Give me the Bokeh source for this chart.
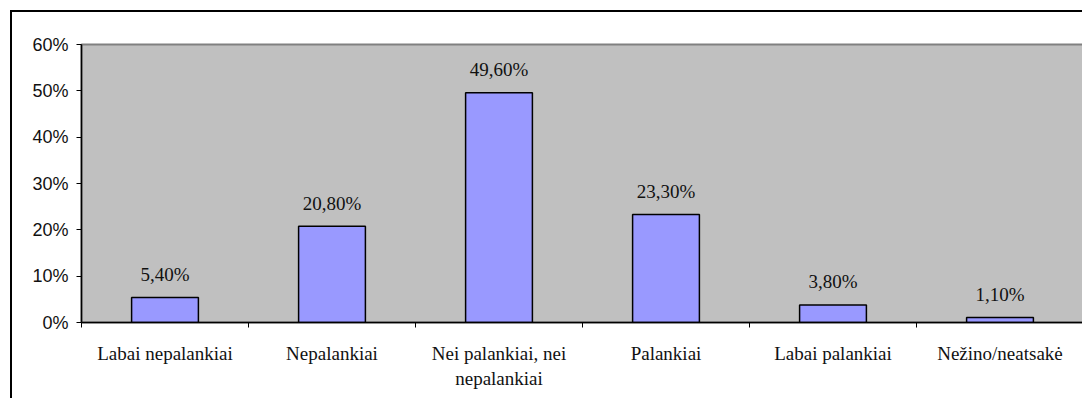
from bokeh.plotting import figure
from bokeh.models import ColumnDataSource, FixedTicker, Range1d, LabelSet
from bokeh.embed import file_html
from bokeh.resources import INLINE

categories = ["Labai nepalankiai", "Nepalankiai", "Nei palankiai, nei\nnepalankiai",
              "Palankiai", "Labai palankiai", "Nežino/neatsakė"]
values = [5.4, 20.8, 49.6, 23.3, 3.8, 1.1]
y_ticks = [0, 10, 20, 30, 40, 50, 60]
y_tick_labels = ["0%", "10%", "20%", "30%", "40%", "50%", "60%"]

n = len(categories)
xs = [i + 0.5 for i in range(n)]
labels = [f"{v:.2f}%".replace(".", ",") for v in values]
src = ColumnDataSource(dict(x=xs, top=values, label=labels))

p = figure(width=1072, height=388, output_backend="svg", toolbar_location=None,
           x_range=Range1d(0, n), y_range=Range1d(0, 60),
           min_border_left=69, min_border_top=32, min_border_bottom=78, min_border_right=1,
           styles={"border-left": "2px solid black", "border-top": "2px solid black",
                   "margin-left": "10px", "margin-top": "10px"})
p.background_fill_color = "#C0C0C0"
p.outline_line_color = "#808080"
p.outline_line_width = 2
p.xgrid.visible = False
p.ygrid.visible = False

p.vbar(x="x", top="top", width=0.4, bottom=0, source=src,
       fill_color="#9999FF", line_color="black", line_width=1.5)

p.add_layout(LabelSet(x="x", y="top", text="label", source=src,
                      text_align="center", text_baseline="middle", y_offset=23,
                      text_font="Liberation Sans", text_font_size="19px", text_color="#111111"))

# y axis
p.yaxis.ticker = FixedTicker(ticks=y_ticks)
p.yaxis.major_label_overrides = {t: l for t, l in zip(y_ticks, y_tick_labels)}
p.yaxis.major_label_text_font = "Liberation Sans"
p.yaxis.major_label_text_font_size = "18px"
p.yaxis.major_label_text_color = "#111111"
p.yaxis.axis_line_color = "black"
p.yaxis.axis_line_width = 1.5
p.yaxis.major_tick_in = 0
p.yaxis.major_tick_out = 5
p.yaxis.major_tick_line_color = "black"
p.yaxis.minor_tick_line_color = None
p.yaxis.major_label_standoff = 8

# x axis: labels at centers, ticks at boundaries
p.xaxis.ticker = FixedTicker(ticks=xs, minor_ticks=list(range(n + 1)))
p.xaxis.major_label_overrides = {x: c for x, c in zip(xs, categories)}
p.xaxis.major_label_text_font = "Liberation Serif"
p.xaxis.major_label_text_font_size = "19px"
p.xaxis.major_label_text_color = "#111111"
p.xaxis.axis_line_color = "black"
p.xaxis.axis_line_width = 1.5
p.xaxis.major_tick_line_color = None
p.xaxis.minor_tick_line_color = "black"
p.xaxis.minor_tick_in = 0
p.xaxis.minor_tick_out = 5
p.xaxis.major_label_standoff = 14

open("out.html", "w").write(file_html(p, INLINE))
